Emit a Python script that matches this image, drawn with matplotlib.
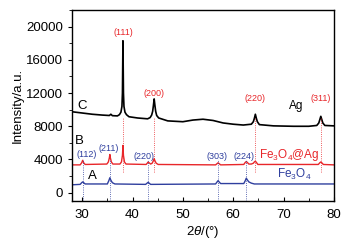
import matplotlib.pyplot as plt
from matplotlib.ticker import MultipleLocator

plt.rcParams['font.family'] = ['Liberation Sans', 'DejaVu Sans']
plt.rcParams['mathtext.fontset'] = 'custom'
plt.rcParams['mathtext.rm'] = 'Liberation Sans'
plt.rcParams['mathtext.it'] = 'Liberation Sans:italic'

# curve C : Ag
x_ag = [28.0, 30, 32, 34, 35.4, 35.7, 36.0, 37.0, 37.4, 37.7, 37.9, 38.0, 38.1, 38.2, 38.3, 38.5,
        38.8, 39.3, 41, 43, 43.5, 43.8, 44.0, 44.15, 44.3, 44.45, 44.6, 44.8, 45.2, 47, 50, 52, 54, 56,
        58, 60, 62, 63.6, 64.0, 64.2, 64.4, 64.6, 64.8, 65.2, 68, 72, 75, 76.6, 77.0,
        77.2, 77.4, 77.6, 77.8, 78.2, 80]
y_ag = [9750, 9600, 9450, 9350, 9300, 9450, 9280, 9250, 9400, 9700, 10400, 12000, 18300, 12000, 10400, 9700,
        9400, 9150, 9000, 8900, 9050, 9350, 9800, 10500, 11300, 10500, 9800, 9300, 9000, 8650, 8550, 8750, 8850, 8700,
        8400, 8250, 8150, 8250, 8550, 8950, 9450, 8950, 8550, 8200, 8050, 8000, 8000, 8100, 8400,
        8800, 9200, 8800, 8400, 8100, 8050]

# curve B : Fe3O4@Ag
x_fa = [28, 29.6, 29.9, 30.1, 30.3, 30.6, 34.9, 35.2, 35.4, 35.5, 35.6, 35.8, 36.1, 37.5, 37.8,
        38.0, 38.1, 38.2, 38.4, 38.7, 42.7, 43.0, 43.1, 43.3, 43.6, 43.9, 44.15, 44.3, 44.45,
        44.7, 45.1, 56.5, 56.8, 57.0, 57.2, 57.5, 62.1, 62.4, 62.6, 62.8, 63.1, 63.6,
        64.0, 64.2, 64.4, 64.6, 64.9, 76.9, 77.2, 77.4, 77.6, 77.9, 80]
y_fa = [3350, 3350, 3600, 3900, 3600, 3400, 3450, 3700, 4200, 4600, 4200, 3700, 3450, 3450, 3700,
        4500, 5700, 4500, 3700, 3450, 3400, 3600, 3700, 3600, 3450, 3550, 3850, 4100, 3850,
        3550, 3400, 3350, 3500, 3600, 3500, 3350, 3400, 3650, 3750, 3650, 3450, 3450,
        3550, 3700, 3800, 3650, 3400, 3400, 3600, 3700, 3600, 3400, 3350]

# curve A : Fe3O4
x_fe = [28, 29.6, 29.9, 30.1, 30.3, 30.6, 35.0, 35.3, 35.5, 35.7, 36.0, 36.5, 42.6, 42.9, 43.1,
        43.3, 43.6, 56.5, 56.8, 57.0, 57.2, 57.5, 62.1, 62.4, 62.6, 62.8, 63.1, 63.6, 64.2, 80]
y_fe = [950, 1000, 1200, 1300, 1200, 1050, 1050, 1450, 1800, 1500, 1200, 1050, 1000, 1150, 1250,
        1150, 1000, 1050, 1300, 1450, 1300, 1100, 1100, 1450, 1750, 1550, 1300, 1150, 1050, 1050]

# peak labels
ag_pos = [38.1, 44.3, 64.4, 77.4]
ag_lbl = ['(111)', '(200)', '(220)', '(311)']
ag_lbl_y = [19300, 12000, 11300, 11300]
fe_pos = [30.1, 35.5, 43.1, 57.0, 62.6]
fe_lbl = ['(112)', '(211)', '(220)', '(303)', '(224)']
fe_lbl_x = [30.8, 35.2, 42.2, 56.8, 62.2]
fe_lbl_y = [4600, 5300, 4400, 4400, 4400]

red = '#e8262a'
blue = '#2f3f9e'

fig = plt.figure(figsize=(3.5, 2.46), dpi=100)
ax = fig.add_axes([0.206, 0.183, 0.748, 0.776])

ax.plot(x_ag, y_ag, color='black', lw=1.2)
ax.plot(x_fa, y_fa, color=red, lw=1.0)
ax.plot(x_fe, y_fe, color=blue, lw=1.0)

for p in ag_pos:
    ax.plot([p, p], [2500, 9000], color=red, lw=0.6, ls=':')
for p in fe_pos:
    ax.plot([p, p], [-1000, 4100], color=blue, lw=0.6, ls=':')

for p, t, yy in zip(ag_pos, ag_lbl, ag_lbl_y):
    ax.text(p, yy, t, color=red, fontsize=6.5, ha='center', va='center')
for xx, t, yy in zip(fe_lbl_x, fe_lbl, fe_lbl_y):
    ax.text(xx, yy, t, color=blue, fontsize=6.5, ha='center', va='center')

ax.text(30, 10400, 'C', fontsize=9.5, ha='center', va='center')
ax.text(29.4, 6200, 'B', fontsize=9.5, ha='center', va='center')
ax.text(32, 2000, 'A', fontsize=9.5, ha='center', va='center')
ax.text(72.6, 10400, 'Ag', fontsize=8.5, ha='center', va='center')
ax.text(71.2, 4600, 'Fe$_3$O$_4$@Ag', fontsize=8.5, color=red, ha='center', va='center')
ax.text(72.2, 2200, 'Fe$_3$O$_4$', fontsize=8.5, color=blue, ha='center', va='center')

ax.set_xlim(28, 80)
ax.set_ylim(-1000, 22000)
ax.set_xticks([30, 40, 50, 60, 70, 80])
ax.set_yticks([0, 4000, 8000, 12000, 16000, 20000])
ax.xaxis.set_minor_locator(MultipleLocator(5))
ax.yaxis.set_minor_locator(MultipleLocator(2000))
ax.tick_params(axis='x', which='both', direction='in', labelsize=9.5, pad=6)
ax.tick_params(axis='y', which='both', direction='out', labelsize=9.5)
ax.tick_params(which='major', length=3)
ax.tick_params(which='minor', length=2)
for s in ax.spines.values():
    s.set_linewidth(1.0)

ax.set_xlabel(r'2$\mathit{\theta}$/(°)', fontsize=9.5, labelpad=2)
ax.set_ylabel('Intensity/a.u.', fontsize=9.5, labelpad=2)

fig.savefig('out.png', dpi=100)
